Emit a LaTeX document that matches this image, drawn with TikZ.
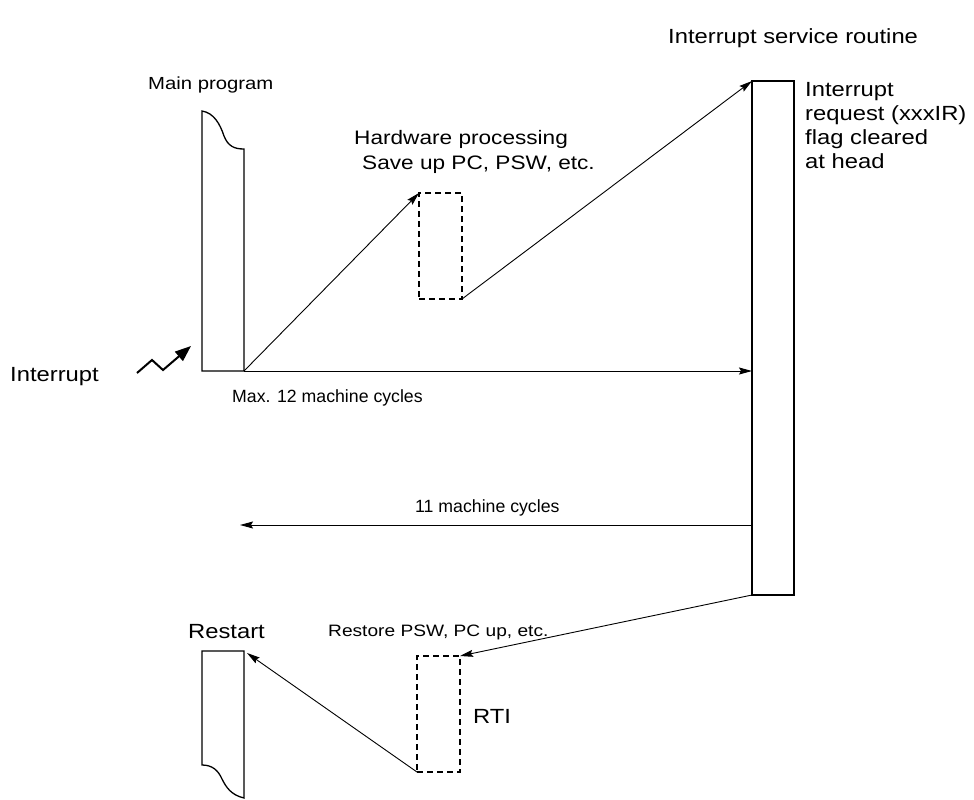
\documentclass[tikz,border=0pt]{standalone}
\usepackage{fontspec}
\setmainfont{Liberation Sans}
\newfontfamily\widefont{Liberation Sans}[FakeStretch=1.16]
\usetikzlibrary{arrows.meta}
\tikzset{
  big/.style={font=\widefont\fontsize{20.5}{24}\selectfont, inner sep=0pt, anchor=west},
  small/.style={font=\widefont\fontsize{17.5}{21}\selectfont, inner sep=0pt, anchor=west},
  tight/.style={font=\fontsize{17.7}{21}\selectfont, inner sep=0pt, anchor=west},
  solidbox/.style={draw, line width=1.3pt, inner sep=0pt, outer sep=0pt},
  dashbox/.style={draw, dash pattern=on 6pt off 4pt, line width=1.2pt, inner sep=0pt, outer sep=0pt},
  arr/.style={line width=0.9pt, -{Stealth[length=13pt,width=7pt,inset=2pt]}}
}
\begin{document}
\begin{tikzpicture}[x=1pt, y=-1pt]
        \useasboundingbox (0,0) rectangle (974,800);

        % 绘制主程序
        \draw[line width=1.3pt] (202,111) .. controls (214,113) and (220,124) .. (224,136)
              .. controls (228,146) and (234,149) .. (244,149) -- (244,371) -- (202,371) -- cycle;
        \coordinate (mainbr) at (244,371);
        \node[small] (mainlbl) at (148,85) {Main program};

        % 绘制硬件处理
        \node[dashbox, minimum width=43pt, minimum height=106pt] (hw) at (440.5,246) {};
        \node[big, font=\widefont\fontsize{19.5}{24}\selectfont] (hwlbl) at (354,139) {Hardware processing};
        \node[big, font=\widefont\fontsize{19.5}{24}\selectfont] (savelbl) at (362,165) {Save up PC, PSW, etc.};

        % 绘制中断服务程序
        \node[solidbox, minimum width=42pt, minimum height=514pt] (isr) at (773,338) {};
        \node[big] (isrlbl) at (668,38) {Interrupt service routine};
        \node[big, align=left, anchor=north west] (flaglbl) at (805,82)
              {Interrupt\\request (xxxIR)\\flag cleared\\at head};

        % 绘制中断
        \coordinate (z1) at (137,373);
        \coordinate (z2) at (152,360);
        \coordinate (z3) at (163,370);
        \coordinate (z4) at (191,346);
        \draw[line width=2pt, -{Triangle[length=16pt,width=12pt]}] (z1) -- (z2) -- (z3) -- (z4);
        \node[big] (intlbl) at (10,377) {Interrupt};

        % 绘制箭头
        \draw[arr] (mainbr) -- (hw.north west);
        \draw[arr] (hw.south east) -- (isr.north west);
        \draw[arr] (mainbr) -- (isr.west |- mainbr);
        \node[tight] (maxlbl) at (232,398) {Max. 12 machine cycles};

        \coordinate (cycend) at (240,525);
        \draw[arr] (isr.west |- cycend) -- (cycend);
        \node[tight] (cyclbl) at (415,508) {11 machine cycles};

        % 绘制返回处理
        \node[dashbox, minimum width=43pt, minimum height=116pt] (rti) at (438.5,714) {};
        \node[small, font=\widefont\fontsize{16.5}{20}\selectfont] (restorelbl) at (328,632) {Restore PSW, PC up, etc.};
        \node[big] (rtilbl) at (473,716) {RTI};
        \draw[arr] (isr.south west) -- (rti.north east);

        % 绘制重新开始
        \draw[line width=1.3pt] (244,798) .. controls (231,795) and (226,787) .. (222,779)
              .. controls (218,770) and (212,765) .. (202,765) -- (202,651) -- (244,651) -- cycle;
        \coordinate (rstr) at (247,653);
        \node[big] (restartlbl) at (188,632) {Restart};
        \draw[arr] (rti.south west) -- (rstr);
    \end{tikzpicture}
\end{document}
